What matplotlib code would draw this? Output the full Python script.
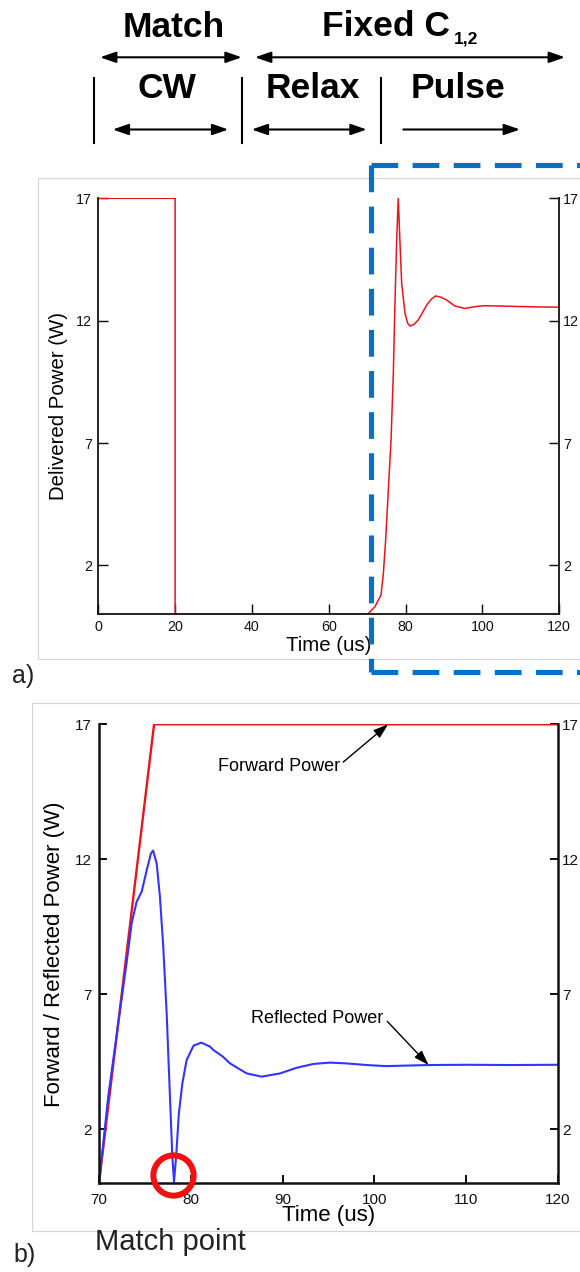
import matplotlib
matplotlib.use("Agg")
import matplotlib.pyplot as plt
from matplotlib.patches import FancyArrowPatch
from matplotlib.transforms import ScaledTranslation

plt.rcParams['font.family'] = ['Liberation Sans', 'DejaVu Sans']

W, H, DPI = 580, 1272, 100

# ---- panel a: delivered power over the whole cycle ----
time_a = [0, 20, 20, 70.1, 72.0, 73.6, 74.2, 74.8, 75.5, 76.2, 76.8, 77.2, 77.67,
          78.08, 78.5, 78.97, 79.83, 80.5, 81.13, 82.2, 83.3, 84.4, 85.5, 86.7,
          87.8, 89.2, 90.7, 92.8, 95.4, 98.0, 100.3, 104, 109, 115, 120]
power_a = [17, 17, 0, 0, 0.31, 0.79, 1.67, 3.04, 5.08, 7.12, 9.85, 12.57, 15.3,
           17.0, 15.3, 13.53, 12.3, 11.9, 11.78, 11.85, 12.03, 12.33, 12.64, 12.88,
           13.01, 12.96, 12.84, 12.6, 12.5, 12.57, 12.61, 12.6, 12.58, 12.56, 12.55]
xticks_a = [0, 20, 40, 60, 80, 100, 120]

# ---- panel b: forward / reflected power during the pulse ----
time_fwd = [70, 76, 120]
power_fwd = [0, 17, 17]
time_ref = [70, 71.0, 72.1, 73.0, 73.56, 74.1, 74.65, 75.2, 75.66, 75.9, 76.28,
            76.64, 77.0, 77.37, 77.73, 77.99, 78.17, 78.4, 78.7, 79.08, 79.55,
            80.3, 81.15, 82.1, 82.45, 83.5, 84.27, 86.09, 87.72, 89.72, 91.54,
            93.35, 95.16, 96.98, 99.16, 101.3, 103.5, 105.9, 110, 115, 120]
power_ref = [0, 3.2, 5.93, 8.15, 9.63, 10.43, 10.8, 11.6, 12.22, 12.32, 11.85,
             10.6, 8.76, 6.3, 3.2, 0.98, 0.06, 0.98, 2.59, 3.7, 4.57,
             5.1, 5.21, 5.06, 4.94, 4.69, 4.44, 4.07, 3.95, 4.07, 4.28,
             4.42, 4.47, 4.44, 4.38, 4.34, 4.36, 4.38, 4.39, 4.38, 4.39]
xticks_b = [70, 80, 90, 100, 110, 120]
match_point = (78.1, 0.3)

yticks = [2, 7, 12, 17]

RED = '#e8141e'
BLUE = '#3434ff'

fig = plt.figure(figsize=(W / DPI, H / DPI), dpi=DPI)
fig.patch.set_facecolor('white')


def px_axes(x0, x1, y0, y1):
    """Axes placed by pixel edges (y measured from the top)."""
    return fig.add_axes([x0 / W, (H - y1) / H, (x1 - x0) / W, (y1 - y0) / H])


def style(ax, xticks, fs, lw, tlen, lpad, rpad, xpad):
    ax.spines['top'].set_visible(False)
    for s in ('left', 'right', 'bottom'):
        ax.spines[s].set_linewidth(lw)
        ax.spines[s].set_color('#111111')
    ax.set_xticks(xticks)
    ax.set_yticks(yticks)
    ax.tick_params(axis='both', direction='in', length=tlen, width=lw * 0.8,
                   colors='#111111', labelsize=fs, top=False, right=True,
                   labelright=True)
    ax.tick_params(axis='x', pad=xpad)
    ax.tick_params(axis='y', pad=lpad)
    # right-hand labels sit a little closer to the spine
    shift = ScaledTranslation((rpad - lpad) / 72.0, 0, fig.dpi_scale_trans)
    for t in ax.yaxis.get_major_ticks():
        t.label2.set_transform(t.label2.get_transform() + shift)
    ax.set_ylim(0, 17)


# panel a
ax_a = px_axes(98.3, 559.3, 198.3, 614.3)
ax_a.plot(time_a, power_a, color=RED, lw=1.1, solid_joinstyle='round')
ax_a.set_xlim(0, 120)
style(ax_a, xticks_a, 10.3, 1.3, 7, 4.3, 2.5, 4.0)
ax_a.set_xlabel('Time (us)', fontsize=14.7, va='center')
ax_a.xaxis.set_label_coords(0.5, -0.0738)
ax_a.set_ylabel('Delivered Power (W)', fontsize=14.7, va='center')
ax_a.yaxis.set_label_coords(-0.0868, 0.5)

# panel b
ax_b = px_axes(99, 558, 724.3, 1183.3)
ax_b.plot(time_fwd, power_fwd, color=RED, lw=1.7)
ax_b.plot(time_ref, power_ref, color=BLUE, lw=1.5, solid_joinstyle='round')
ax_b.set_xlim(70, 120)
style(ax_b, xticks_b, 11, 1.8, 6, 5.0, 3.0, 7.0)
ax_b.set_xlabel('Time (us)', fontsize=16, va='center')
ax_b.xaxis.set_label_coords(0.5, -0.0712)
ax_b.set_ylabel('Forward / Reflected Power (W)', fontsize=16, va='center')
ax_b.yaxis.set_label_coords(-0.0959, 0.5)

ARROW = dict(arrowstyle='-|>,head_length=0.9,head_width=0.3', color='black',
             lw=1.0, mutation_scale=10, shrinkA=0, shrinkB=0)
ax_b.text(83.0, 15.45, 'Forward Power', fontsize=13, ha='left', va='center')
ax_b.annotate('', xy=(101.5, 17), xytext=(96.6, 15.6), arrowprops=ARROW)
ax_b.text(86.6, 6.11, 'Reflected Power', fontsize=13, ha='left', va='center')
ax_b.annotate('', xy=(105.9, 4.38), xytext=(101.4, 6.0), arrowprops=ARROW)
ax_b.plot(*match_point, marker='o', ms=29, mfc='none', mec='#f21010', mew=4.3,
          clip_on=False, zorder=6)

# ---- overlay in pixel coordinates: phase labels, frames, highlight box ----
ov = fig.add_axes([0, 0, 1, 1], zorder=10)
ov.set_xlim(0, W)
ov.set_ylim(H, 0)
ov.axis('off')
ov.patch.set_alpha(0)

BOLD = dict(fontsize=25.5, fontweight='bold', va='baseline', color='black')
ov.text(174, 36.7, 'Match', ha='center', **BOLD)
ov.text(322, 36.5, 'Fixed C', ha='left', **BOLD)
ov.text(453.5, 43.5, '1,2', ha='left', va='baseline', fontsize=12.5,
        fontweight='bold', color='black')
ov.text(167, 98.3, 'CW', ha='center', **BOLD)
ov.text(313, 98.3, 'Relax', ha='center', **BOLD)
ov.text(458, 98.3, 'Pulse', ha='center', **BOLD)


def arrow(x0, x1, y, style='<|-|>'):
    ov.add_patch(FancyArrowPatch((x0, y), (x1, y),
                                 arrowstyle=f'{style},head_length=0.95,head_width=0.33',
                                 mutation_scale=10, color='black', lw=1.5,
                                 shrinkA=0, shrinkB=0))


arrow(100, 241.7, 57.3)
arrow(255, 565, 57.3)
arrow(112.7, 228.3, 129.5)
arrow(251.7, 366.7, 129.5)
arrow(403.3, 520, 129.5, style='-|>')
for bx in (94.3, 241.7, 381):
    ov.plot([bx, bx], [77.7, 143.3], color='black', lw=1.5)

# light frames around the two panels
FR = dict(color='#d4d4d4', lw=0.8)
ov.plot([600, 38.3, 38.3, 600], [178.3, 178.3, 659, 659], **FR)
ov.plot([600, 32.3, 32.3, 600], [702.5, 702.5, 1230.5, 1230.5], **FR)

# dashed highlight of the pulse region
DASH = dict(color='#0a6fc2', lw=3.7, dashes=(5.2, 2.8), solid_capstyle='butt',
            dash_capstyle='butt')
ov.plot([370.7, 600], [165, 165], **DASH)
ov.plot([370.7, 370.7], [165, 671.7], **DASH)
ov.plot([370.7, 600], [671.7, 671.7], **DASH)

ov.text(11.7, 683, 'a)', fontsize=18, ha='left', va='baseline', color='#222222')
ov.text(13, 1262, 'b)', fontsize=18, ha='left', va='baseline', color='#222222')
ov.text(170, 1250, 'Match point', fontsize=21, ha='center', va='baseline',
        color='#222222')

fig.savefig('out.png', dpi=DPI)
